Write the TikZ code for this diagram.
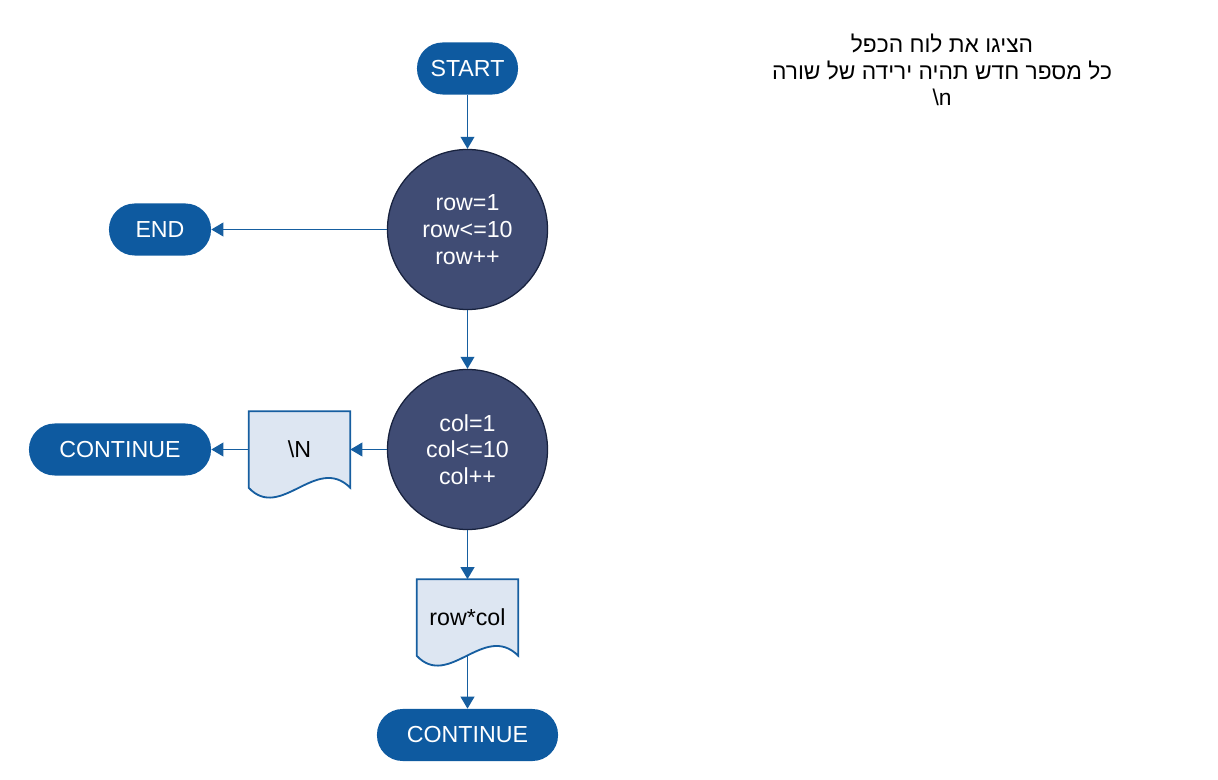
\documentclass[tikz,border=0pt]{standalone}
\usepackage{fontspec}
\setmainfont{Liberation Sans}
\newfontfamily\hebfont[Script=Hebrew]{Liberation Sans}
\TeXXeTstate=1
\usetikzlibrary{arrows.meta,backgrounds}

\definecolor{pillblue}{RGB}{14,90,160}
\definecolor{loopnavy}{RGB}{64,76,116}
\definecolor{loopedge}{RGB}{24,34,62}
\definecolor{docfill}{RGB}{221,230,242}
\definecolor{lineblue}{RGB}{22,94,160}

\tikzset{
  terminal/.style={fill=pillblue, text=white, rounded corners=0.64cm,
    minimum height=1.3cm, inner sep=0pt, font=\fontsize{16.5}{19}\selectfont},
  loopcirc/.style={circle, fill=loopnavy, draw=loopedge, line width=0.9pt,
    text=white, minimum size=4cm, inner sep=0pt, align=center,
    font=\fontsize{16.5}{19}\selectfont},
  docbox/.style={minimum width=2.525cm, minimum height=1.9cm, inner sep=0pt,
    text=black, font=\fontsize{16.5}{19}\selectfont},
  docline/.style={fill=docfill, draw=lineblue, line width=1.3pt},
  flowarrow/.style={draw=lineblue, line width=1.4pt,
    -{Triangle[length=0.3cm, width=0.34cm]}}
}

% Contour de document (bas ondule)
\newcommand{\docoutline}[1]{%
  \path[docline] (#1.north west) -- (#1.north east) -- (#1.south east)
    .. controls ([xshift=-0.85cm, yshift=0.85cm]#1.south east)
    and ([xshift=0.8cm, yshift=-0.85cm]#1.south west) .. (#1.south west) -- cycle;}

\begin{document}
\begin{tikzpicture}[x=0.025cm, y=-0.025cm]
  \useasboundingbox (0,0) rectangle (1218,780);

  % Terminaux
  \node[terminal, minimum width=2.525cm] (start) at (467.5,68.5) {START};
  \node[terminal, minimum width=2.55cm] (end) at (160,229.5) {END};
  \node[terminal, minimum width=4.55cm] (contA) at (120,449.5) {CONTINUE};
  \node[terminal, minimum width=4.525cm] (contB) at (467.5,735) {CONTINUE};

  % Boucles
  \node[loopcirc] (rowloop) at (467.5,229.5) {row=1\\row<=10\\row++};
  \node[loopcirc] (colloop) at (467.5,449.5) {col=1\\col<=10\\col++};

  % Sorties
  \node[docbox] (newline) at (299.5,449.5) {\textbackslash N};
  \node[docbox] (product) at (467.5,617.5) {row*col};
  \begin{scope}[on background layer]
    \docoutline{newline}
    \docoutline{product}
  \end{scope}

  % Fleches
  \draw[flowarrow] (start) -- (rowloop);
  \draw[flowarrow] (rowloop) -- (end);
  \draw[flowarrow] (rowloop) -- (colloop);
  \draw[flowarrow] (colloop) -- (newline);
  \draw[flowarrow] (newline) -- (contA);
  \draw[flowarrow] (colloop) -- (product);
  \draw[flowarrow] (product) -- (contB);

  % Consigne
  \node[align=center, font=\hebfont\fontsize{16.2}{19}\selectfont] (task) at (942,70)
    {\beginR הציגו את לוח הכפל\endR\\
     \beginR כל מספר חדש תהיה ירידה של שורה\endR\\
     \textbackslash n};
\end{tikzpicture}
\end{document}
